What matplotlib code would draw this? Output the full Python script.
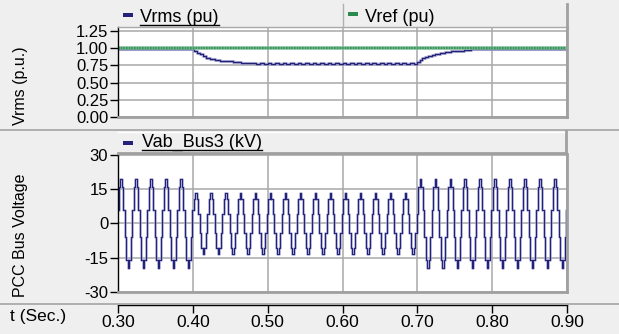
import matplotlib
matplotlib.use("Agg")
import matplotlib.pyplot as plt
from matplotlib.lines import Line2D
from matplotlib.patches import Rectangle

plt.rcParams['font.family'] = ['Liberation Sans', 'DejaVu Sans']

# ---- data ----
# Vrms (pu), stepped trace
vrms_t = [0.300, 0.400, 0.402, 0.405, 0.409, 0.413, 0.418, 0.423, 0.429, 0.436,
          0.444, 0.454, 0.464, 0.476]
vrms_v = [0.993, 0.993, 0.96, 0.935, 0.915, 0.89, 0.865, 0.845, 0.83, 0.82,
          0.81, 0.795, 0.788, 0.78]
# ripple during the sag (every 5 ms)
ripple_t = [0.480, 0.485, 0.490, 0.495, 0.500, 0.505, 0.510, 0.515, 0.520, 0.525,
            0.530, 0.535, 0.540, 0.545, 0.550, 0.555, 0.560, 0.565, 0.570, 0.575,
            0.580, 0.585, 0.590, 0.595, 0.600, 0.605, 0.610, 0.615, 0.620, 0.625,
            0.630, 0.635, 0.640, 0.645, 0.650, 0.655, 0.660, 0.665, 0.670, 0.675,
            0.680, 0.685, 0.690, 0.695]
ripple_v = [0.785, 0.772, 0.786, 0.772, 0.786, 0.772, 0.786, 0.772, 0.786, 0.772,
            0.786, 0.772, 0.786, 0.772, 0.786, 0.772, 0.786, 0.772, 0.786, 0.772,
            0.786, 0.772, 0.786, 0.772, 0.786, 0.772, 0.786, 0.772, 0.786, 0.772,
            0.786, 0.772, 0.786, 0.772, 0.786, 0.772, 0.786, 0.772, 0.786, 0.772,
            0.786, 0.772, 0.786, 0.772]
recov_t = [0.700, 0.703, 0.706, 0.710, 0.714, 0.719, 0.724, 0.730, 0.737, 0.745,
           0.753, 0.762, 0.772, 0.781, 0.900]
recov_v = [0.80, 0.83, 0.855, 0.875, 0.89, 0.905, 0.92, 0.935, 0.948, 0.958,
           0.967, 0.976, 0.984, 0.992, 0.992]
vref_t = [0.30, 0.90]
vref_v = [1.0, 1.0]

# Vab_Bus3 (kV): one sampled cycle (2 ms steps, 50 Hz), amplitude per interval
cycle_shape = [0.31, 0.81, 1.0, 0.81, 0.31, -0.31, -0.81, -1.0, -0.81, -0.31]
sample_t0 = 0.299
sample_dt = 0.002
seg_edges = [0.299, 0.40, 0.70, 0.902]
seg_amp = [19.5, 13.2, 19.5]

xticks = [0.30, 0.40, 0.50, 0.60, 0.70, 0.80, 0.90]
xticklabels = ['0.30', '0.40', '0.50', '0.60', '0.70', '0.80', '0.90']
yticks_top = [0.0, 0.25, 0.5, 0.75, 1.0, 1.25]
yticks_bot = [-30, -15, 0, 15, 30]

# ---- build series ----
t_v = vrms_t + ripple_t + recov_t
v_v = vrms_v + ripple_v + recov_v

wave_t, wave_v = [], []
n = int(round((seg_edges[-1] - sample_t0) / sample_dt))
for k in range(n + 1):
    t = sample_t0 + k * sample_dt
    amp = seg_amp[-1]
    for i in range(len(seg_amp)):
        if seg_edges[i] - 1e-9 <= t < seg_edges[i + 1] - 1e-9:
            amp = seg_amp[i]
            break
    wave_t.append(t)
    wave_v.append(amp * cycle_shape[k % len(cycle_shape)])

# ---- figure ----
W, H = 619, 334
BG = '#eeefee'
GRID = '#a8a8a8'
NAVY = '#22227a'
HALO = '#9a9ac8'
GREEN = '#2a8a4e'

def fx(px):
    return px / W

def fy(py):
    return 1 - py / H

fig = plt.figure(figsize=(W / 100, H / 100), dpi=100, facecolor=BG)

def fline(x0, y0, x1, y1, color=GRID, lw=1.0):
    fig.add_artist(Line2D([fx(x0), fx(x1)], [fy(y0), fy(y1)],
                          transform=fig.transFigure, color=color, lw=lw))

X0, X1 = 118, 567

def style_axes(ax, yt):
    ax.set_facecolor('white')
    ax.set_xlim(0.30, 0.90)
    ax.set_xticks(xticks)
    ax.set_yticks(yt)
    ax.grid(True, color=GRID, lw=1.1)
    ax.set_axisbelow(True)
    ax.tick_params(axis='x', length=0, labelbottom=False)
    ax.tick_params(axis='y', direction='out', length=6, width=1, color='black',
                   pad=1, labelsize=12)
    ax.spines['left'].set_color('black')
    ax.spines['left'].set_linewidth(1.0)
    ax.spines['top'].set_color(GRID)
    ax.spines['top'].set_linewidth(1.0)
    for s in ['right', 'bottom']:
        ax.spines[s].set_color('#a0a0a0')
        ax.spines[s].set_linewidth(2.0)

# top axes
ax1 = fig.add_axes([fx(X0), fy(117), (X1 - X0) / W, 90 / H])
style_axes(ax1, yticks_top)
ax1.set_ylim(0, 1.31)
ax1.set_yticklabels(['0.00', '0.25', '0.50', '0.75', '1.00', '1.25'])
ax1.plot(t_v, v_v, drawstyle='steps-post', color=HALO, lw=2.2, alpha=0.8)
ax1.plot(t_v, v_v, drawstyle='steps-post', color=NAVY, lw=0.9)
ax1.plot(vref_t, vref_v, color='#7fbf95', lw=2.6)
ax1.plot(vref_t, vref_v, color=GREEN, lw=1.2, ls=(0, (1, 0.6)))

# bottom axes
ax2 = fig.add_axes([fx(X0), fy(292), (X1 - X0) / W, 138 / H])
style_axes(ax2, yticks_bot)
ax2.set_ylim(-30, 30.4)
ax2.set_yticklabels(['-30', '-15', '0', '15', '30'])
ax2.plot(wave_t, wave_v, drawstyle='steps-post', color=HALO, lw=1.9, alpha=0.75)
ax2.plot(wave_t, wave_v, drawstyle='steps-post', color=NAVY, lw=0.8)

# time axis strip
ax3 = fig.add_axes([fx(X0), fy(305), (X1 - X0) / W, 0.0001])
ax3.patch.set_visible(False)
ax3.set_xlim(0.30, 0.90)
ax3.set_yticks([])
for s in ['top', 'left', 'right']:
    ax3.spines[s].set_visible(False)
ax3.spines['bottom'].set_color('black')
ax3.spines['bottom'].set_linewidth(1.0)
ax3.set_xticks(xticks)
ax3.set_xticklabels(xticklabels)
ax3.tick_params(axis='x', direction='out', length=6, width=1, pad=1.5,
                labelsize=12.5)

# separators and legend bands
fline(0, 130, W, 130, color='#a4a4a4', lw=1.2)
fline(0, 304, W, 304, color='#a4a4a4', lw=1.2)
fline(343, 4, 343, 27, color='#b0b0b0', lw=1.0)
fline(567, 4, 567, 27, color='#a0a0a0', lw=2.0)
fline(X0, 132, 566, 132, color='white', lw=1.0)
fline(566, 131, 566, 153, color='#a0a0a0', lw=2.0)
fline(X0, 153, 566, 153, color='#a0a0a0', lw=2.0)

# legend items
def legend_item(mx, my, tx, ty, label, color, underline):
    fig.add_artist(Rectangle((fx(mx), fy(my + 4)), 10 / W, 4 / H,
                             transform=fig.transFigure, color=color, lw=0))
    txt = fig.text(fx(tx), fy(ty), label, fontsize=13, ha='left',
                   va='baseline', color='black')
    return txt, underline

items = [
    legend_item(123, 13, 140, 22, 'Vrms (pu)', NAVY, True),
    legend_item(348, 12, 365, 22, 'Vref (pu)', GREEN, False),
    legend_item(123, 141, 142, 147, 'Vab_Bus3 (kV)', NAVY, True),
]

# axis labels
fig.text(fx(21), fy(86), 'Vrms (p.u.)', rotation=90, ha='center', va='center',
         fontsize=11.5)
fig.text(fx(21), fy(235), 'PCC Bus Voltage', rotation=90, ha='center',
         va='center', fontsize=11.5)
fig.text(fx(10), fy(317), 't (Sec.)', ha='left', va='center', fontsize=12.5)

# underlines under legend labels
fig.canvas.draw()
r = fig.canvas.get_renderer()
for txt, ul in items:
    if not ul:
        continue
    bb = txt.get_window_extent(r)
    yb = txt.get_position()[1] * H - 2.5
    fig.add_artist(Line2D([bb.x0 / W, bb.x1 / W], [yb / H, yb / H],
                          transform=fig.transFigure, color='black', lw=1.0))

fig.savefig('out.png', dpi=100, facecolor=BG)
